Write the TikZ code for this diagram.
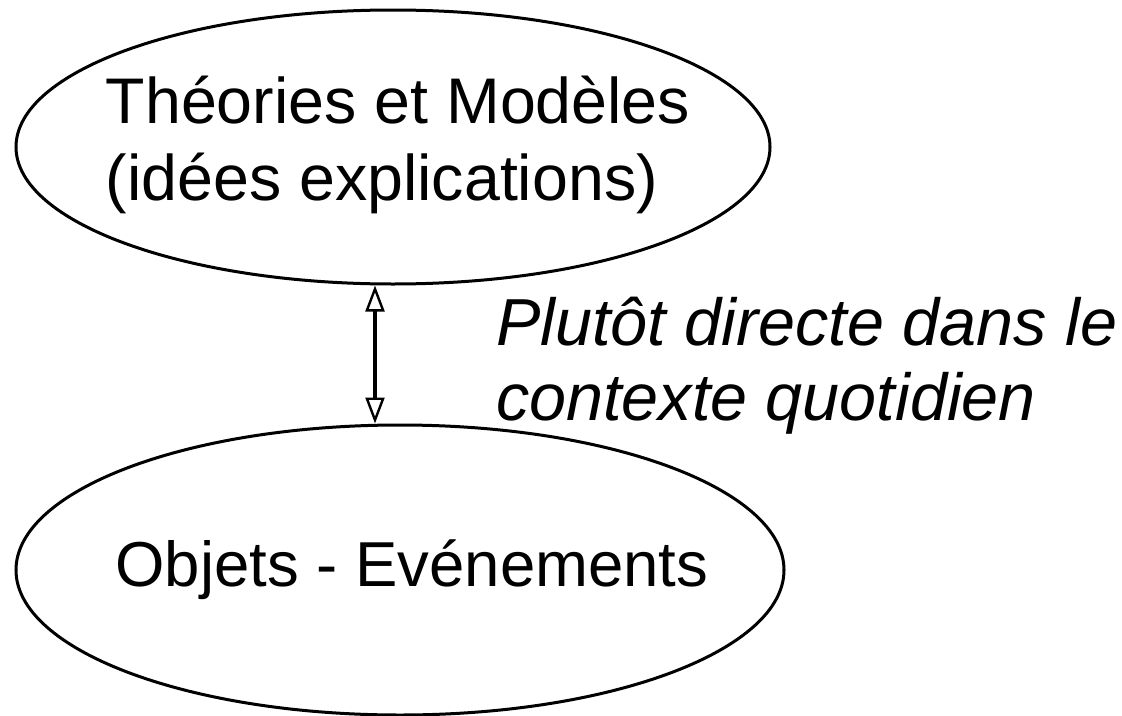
\documentclass[tikz,border=0pt]{standalone}
\usepackage{fontspec}
\setmainfont{Liberation Sans}
\usetikzlibrary{shapes.geometric,arrows.meta}
\tikzset{
  bubble/.style={ellipse, draw, line width=3pt, inner sep=0pt},
  caption/.style={align=left, inner sep=0pt, font=\fontsize{64.5}{77}\selectfont},
  link/.style={line width=3.2pt,
    {Triangle[open,length=26pt,width=19pt,line width=2.4pt]}-{Triangle[open,length=26pt,width=19pt,line width=2.4pt]}},
  note/.style={anchor=base west, align=left, inner sep=0pt,
    font=\fontsize{66.5}{75}\selectfont\itshape}
}
\begin{document}
\begin{tikzpicture}[x=1pt,y=-1pt]
  \useasboundingbox (0,0) rectangle (1122,715);
  % upper bubble: theories
  \node[bubble, minimum width=754pt, minimum height=274pt,
    label={[caption, xshift=5pt, yshift=2pt]center:Théories et Modèles\\(idées explications)}]
    (theory) at (393,147) {};
  % lower bubble: objects and events
  \node[bubble, minimum width=768pt, minimum height=290pt,
    label={[caption, font=\fontsize{63.5}{77}\selectfont, xshift=12pt]center:Objets - Evénements}]
    (world) at (400,570) {};
  % two-way link between the bubbles
  \coordinate (axis) at (375,0);
  \draw[link] (theory.south -| axis) -- (world.north -| axis);
  \node[note] (remark) at (496,420) {Plutôt directe dans le\\contexte quotidien};
\end{tikzpicture}
\end{document}
